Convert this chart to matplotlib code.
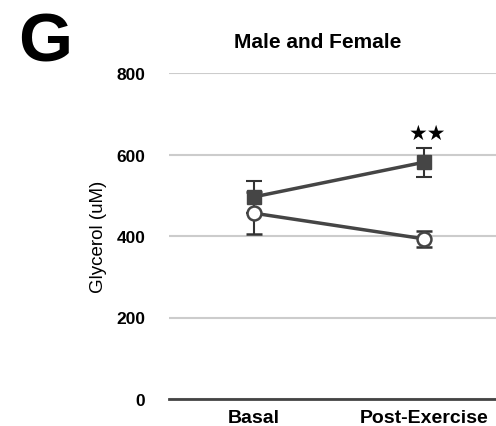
import matplotlib
matplotlib.use("Agg")
import matplotlib.pyplot as plt

categories = ["Basal", "Post-Exercise"]
square_vals = [496, 581]
square_err = [40, 36]
circle_vals = [456, 393]
circle_err = [52, 20]
yticks = [0, 200, 400, 600, 800]

plt.rcParams['font.family'] = ['Liberation Sans', 'DejaVu Sans']
fig = plt.figure(figsize=(4.96, 4.27), dpi=100)
ax = fig.add_axes([169/496, 27/427, 340/496, 326/427])
x = list(range(len(categories)))
col = '#454545'
ax.errorbar(x, square_vals, yerr=square_err, color=col, lw=2.5, marker='s', ms=10,
            mfc=col, mec=col, ecolor='#333333', elinewidth=1.5, capsize=6, capthick=1.5, zorder=3)
ax.errorbar(x, circle_vals, yerr=circle_err, color=col, lw=2.5, marker='o', ms=10,
            mfc='white', mec=col, mew=1.8, ecolor='#333333', elinewidth=1.5, capsize=6, capthick=1.5, zorder=3)
ax.text(1.02, 652, "★★", ha='center', va='center', fontsize=15, family='DejaVu Sans', color='black')
ax.set_xlim(-0.5, 1.5)
ax.set_ylim(0, 800)
ax.set_yticks(yticks)
ax.set_yticklabels([str(v) for v in yticks], fontsize=12.5, fontweight='bold')
ax.set_xticks(x)
ax.set_xticklabels(categories, fontsize=14, fontweight='bold')
ax.tick_params(axis='x', length=0, pad=7)
ax.tick_params(axis='y', length=0, pad=17)
ax.grid(axis='y', color='#cccccc', lw=1.5)
ax.set_axisbelow(True)
for s in ['top', 'right', 'left']:
    ax.spines[s].set_visible(False)
ax.spines['bottom'].set_color('#444444')
ax.spines['bottom'].set_linewidth(2)
ax.set_ylabel("Glycerol (uM)", fontsize=13.5, labelpad=7)
fig.text(318/496, 1 - 42/427, "Male and Female", ha='center', va='center', fontsize=15, fontweight='bold')
fig.text(45/496, 1 - 43/427, "G", ha='center', va='center', fontsize=50, fontweight='bold')
fig.savefig("out.png", dpi=100)
